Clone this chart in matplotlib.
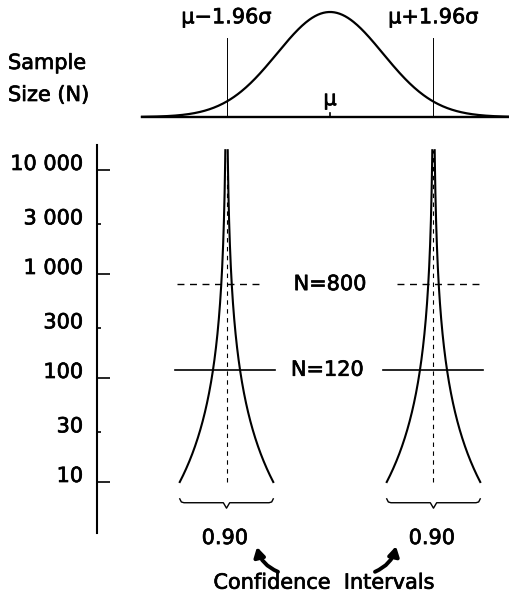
import numpy as np
import matplotlib
matplotlib.use("Agg")
import matplotlib.pyplot as plt
import matplotlib.patheffects as pe
from matplotlib.text import Text

# sample size axis
major_n = [10, 100, 1000, 10000]
major_labels = ["10", "100", "1 000", "10 000"]
minor_n = [30, 300, 3000]
minor_labels = ["30", "300", "3 000"]

# top normal curve, x in sigma units (mu = 0)
curve_span = (-3.56, 3.39)
z_crit = 1.96
centers = [-1.96, 1.96]

# funnels: half-width = k / sqrt(N)
funnel_k = 2.8
funnel_n = (10, 15500)

# reference sample sizes with the extent of their horizontal lines
n120 = 120
n120_left = (-2.94, -1.04)
n120_right = (1.00, 2.90)
n800 = 800
n800_left = (-2.90, -1.33)
n800_right = (1.27, 2.88)

conf_label = "0.90"

FS = 15
plt.rcParams["font.family"] = ["DejaVu Sans"]

W, H = 509, 603
fig = plt.figure(figsize=(W / 100, H / 100), dpi=100)

x_lo = (97 - 330) / 52.8
x_hi = (509 - 330) / 52.8

# ---- top: normal curve ----
top = fig.add_axes([97 / W, (H - 117) / H, (509 - 97) / W, 105 / H])
top.set_xlim(x_lo, x_hi)
top.set_ylim(0, 1)
top.axis("off")

xs = np.linspace(curve_span[0], curve_span[1], 400)
top.plot(xs, np.exp(-xs ** 2 / 2), color="black", lw=1.6, clip_on=False)
top.plot(curve_span, [0, 0], color="black", lw=1.7, clip_on=False)
for c in centers:
    top.plot([c, c], [0, 0.75], color="black", lw=0.7)
top.plot([0, 0], [0, 0.04], color="black", lw=1.2)
top.text(centers[0], 0.95, "μ−1.96σ", ha="center", va="center",
         fontsize=FS, clip_on=False)
top.text(centers[1], 0.95, "μ+1.96σ", ha="center", va="center",
         fontsize=FS, clip_on=False)
top.text(0, 0.17, "μ", ha="center", va="center", fontsize=FS)

fig.text(8 / W, 1 - 63 / H, "Sample", ha="left", va="center", fontsize=FS)
fig.text(8 / W, 1 - 95 / H, "Size (N)", ha="left", va="center",
         fontsize=FS)

# ---- main: funnels on log N ----
ax = fig.add_axes([97 / W, (H - 533) / H, (509 - 97) / W, 388 / H])
ax.set_yscale("log")
ax.set_xlim(x_lo, x_hi)
n_top = 10 ** (1 + (482 - 145) / 104)
n_bot = 10 ** (1 - (533 - 482) / 104)
ax.set_ylim(n_bot, n_top)
for s in ["top", "right", "bottom"]:
    ax.spines[s].set_visible(False)
ax.spines["left"].set_linewidth(1.5)
ax.set_xticks([])
ax.set_yticks(major_n, major_labels)
ax.set_yticks(minor_n, minor_labels, minor=True)
ax.tick_params(axis="y", which="major", direction="in", length=9.5,
               width=1.2, pad=10, labelsize=FS)
ax.tick_params(axis="y", which="minor", direction="in", length=3,
               width=1.2, pad=10, labelsize=FS)
for t in ax.get_yticklabels(which="both"):
    t.set_verticalalignment("baseline")

ns = np.logspace(np.log10(funnel_n[0]), np.log10(funnel_n[1]), 400)
hw = funnel_k / np.sqrt(ns)
for c in centers:
    ax.plot(c - hw, ns, color="black", lw=1.5)
    ax.plot(c + hw, ns, color="black", lw=1.5)
    ax.plot([c, c], funnel_n, color="black", lw=0.8,
            linestyle=(0, (4, 4)))

for seg in (n120_left, n120_right):
    ax.plot(seg, [n120, n120], color="black", lw=1.2)
for seg in (n800_left, n800_right):
    ax.plot(seg, [n800, n800], color="black", lw=1.0,
            linestyle=(0, (5, 4)))
ax.text(0, n800, "N=800", ha="center", va="center", fontsize=FS)
ax.text(-0.05, n120, "N=120", ha="center", va="center", fontsize=FS)

# braces under the funnels
tr = ax.get_xaxis_transform()
hw10 = funnel_k / np.sqrt(funnel_n[0])
for c in centers:
    x0, x1 = c - hw10, c + hw10
    bx = [x0, x0 + 0.03, x0 + 0.08, c - 0.06, c, c + 0.06, x1 - 0.08,
          x1 - 0.03, x1]
    by = [0.088, 0.080, 0.078, 0.078, 0.064, 0.078, 0.078, 0.080, 0.088]
    ax.plot(bx, by, color="black", lw=1.0, transform=tr, clip_on=False)
    ax.text(c - 0.03, -0.013, conf_label, ha="center", va="center",
            fontsize=FS, transform=tr)

arrow = dict(arrowstyle="-|>,head_length=0.55,head_width=0.32", lw=2.8,
             color="black", shrinkA=0, shrinkB=0)
ax.annotate("", xy=((257 - 330) / 52.8, -0.036),
            xytext=((278 - 330) / 52.8, -0.100),
            xycoords=tr, textcoords=tr,
            arrowprops=dict(arrow, connectionstyle="arc3,rad=-0.25"))
ax.annotate("", xy=((396 - 330) / 52.8, -0.034),
            xytext=((375 - 330) / 52.8, -0.100),
            xycoords=tr, textcoords=tr,
            arrowprops=dict(arrow, connectionstyle="arc3,rad=0.25"))
ax.text((324 - 330) / 52.8, -0.128, "Confidence  Intervals",
        ha="center", va="center", fontsize=FS, transform=tr)

# scanned print looks slightly heavier than the plain font
for t in fig.findobj(Text):
    t.set_path_effects([pe.withStroke(linewidth=0.5, foreground="black")])

fig.savefig("out.png", dpi=100)
